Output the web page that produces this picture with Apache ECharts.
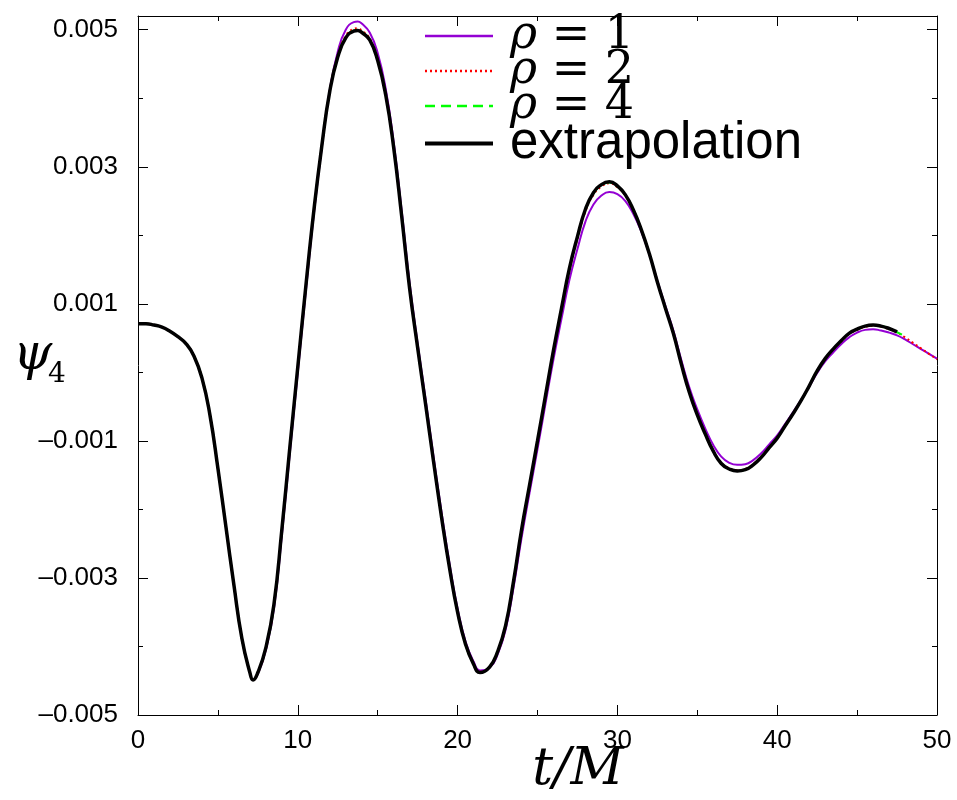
<!DOCTYPE html>
<html><head><meta charset="utf-8">
<script src="https://cdn.jsdelivr.net/npm/echarts@6/dist/echarts.min.js"></script>
<style>html,body{margin:0;padding:0;background:#fff}#c{width:957px;height:800px}</style>
</head><body><div id="c"></div>
<script>
// time grid (t/M)
const t = [0,0.5,1,1.5,2,2.5,3,3.5,4,4.5,5,5.5,6,6.5,7,7.2,7.5,8,8.5,9,9.5,10,10.5,11,11.5,12,12.5,13,13.5,13.75,14,14.5,15,15.5,16,16.5,17,17.5,18,18.5,19,19.5,20,20.5,21,21.4,22,22.5,23,23.5,24,24.5,25,25.5,26,26.5,27,27.5,28,28.5,29,29.5,30,30.5,31,31.5,32,32.5,33,33.5,34,34.5,35,35.5,36,36.5,37,37.5,38,38.5,39,39.5,40,40.5,41,41.5,42,42.5,43,43.5,44,44.5,45,45.5,46,46.5,47,47.5,48,48.5,49,49.5,50];
// psi_4 values in units of 1e-3
const rho1 = [0.71,0.71,0.69,0.66,0.60,0.52,0.42,0.24,-0.08,-0.62,-1.40,-2.25,-3.10,-3.88,-4.38,-4.49,-4.40,-4.05,-3.46,-2.38,-1.18,0.00,1.18,2.30,3.28,4.12,4.68,5.00,5.11,5.12,5.09,4.96,4.66,4.14,3.36,2.36,1.30,0.42,-0.40,-1.24,-2.05,-2.80,-3.45,-3.93,-4.22,-4.35,-4.31,-4.12,-3.76,-3.14,-2.42,-1.76,-1.12,-0.46,0.19,0.78,1.35,1.80,2.20,2.45,2.58,2.63,2.60,2.50,2.31,2.05,1.72,1.34,0.97,0.61,0.18,-0.22,-0.54,-0.82,-1.06,-1.23,-1.32,-1.35,-1.34,-1.28,-1.18,-1.05,-0.92,-0.75,-0.58,-0.40,-0.21,-0.01,0.16,0.29,0.41,0.51,0.58,0.62,0.63,0.61,0.58,0.54,0.48,0.41,0.34,0.27,0.20];
const rho2 = [0.71,0.71,0.69,0.66,0.60,0.52,0.42,0.24,-0.08,-0.62,-1.40,-2.25,-3.10,-3.88,-4.38,-4.49,-4.39,-4.03,-3.40,-2.32,-1.12,0.06,1.23,2.34,3.30,4.10,4.62,4.91,5.01,5.02,4.99,4.87,4.57,4.07,3.30,2.29,1.23,0.36,-0.46,-1.30,-2.11,-2.85,-3.49,-3.96,-4.25,-4.37,-4.30,-4.09,-3.71,-3.07,-2.32,-1.67,-1.02,-0.36,0.30,0.91,1.49,1.95,2.35,2.59,2.71,2.76,2.70,2.58,2.36,2.08,1.73,1.32,0.94,0.58,0.13,-0.28,-0.61,-0.89,-1.14,-1.32,-1.40,-1.43,-1.41,-1.34,-1.23,-1.09,-0.95,-0.78,-0.60,-0.41,-0.20,0.02,0.19,0.33,0.45,0.56,0.62,0.665,0.68,0.665,0.63,0.58,0.51,0.43,0.35,0.27,0.19];
const rho4 = [0.71,0.71,0.69,0.66,0.60,0.52,0.42,0.24,-0.08,-0.62,-1.40,-2.25,-3.10,-3.88,-4.38,-4.49,-4.38,-4.02,-3.41,-2.31,-1.11,0.07,1.24,2.35,3.30,4.10,4.61,4.89,4.99,5.00,4.97,4.86,4.56,4.06,3.29,2.29,1.23,0.35,-0.47,-1.31,-2.12,-2.86,-3.50,-3.97,-4.26,-4.38,-4.30,-4.08,-3.70,-3.06,-2.31,-1.66,-1.01,-0.35,0.31,0.92,1.51,1.97,2.37,2.61,2.73,2.77,2.71,2.59,2.37,2.08,1.73,1.32,0.94,0.57,0.12,-0.29,-0.62,-0.90,-1.15,-1.33,-1.41,-1.44,-1.42,-1.35,-1.24,-1.10,-0.96,-0.78,-0.60,-0.41,-0.20,0.02,0.20,0.34,0.46,0.57,0.63,0.675,0.69,0.675,0.64,0.585,0.53,null,null,null,null];
const extrap = [0.71,0.71,0.69,0.66,0.60,0.52,0.42,0.24,-0.08,-0.62,-1.40,-2.25,-3.10,-3.88,-4.38,-4.49,-4.38,-4.02,-3.40,-2.30,-1.10,0.08,1.25,2.35,3.30,4.10,4.60,4.88,4.98,4.99,4.96,4.85,4.55,4.05,3.28,2.28,1.22,0.36,-0.47,-1.31,-2.12,-2.86,-3.50,-3.97,-4.26,-4.38,-4.30,-4.08,-3.70,-3.05,-2.30,-1.65,-1.00,-0.34,0.32,0.93,1.52,1.98,2.38,2.62,2.74,2.78,2.72,2.59,2.37,2.08,1.73,1.32,0.94,0.57,0.12,-0.29,-0.62,-0.90,-1.15,-1.33,-1.41,-1.44,-1.42,-1.35,-1.24,-1.10,-0.96,-0.78,-0.60,-0.41,-0.20,0.02,0.20,0.34,0.46,0.57,0.63,0.675,0.69,0.675,0.64,0.59,null,null,null,null,null];
const seriesNames = ['ρ = 1','ρ = 2','ρ = 4','extrapolation'];
const xTickLabels = ['0','10','20','30','40','50'];
const yTickLabels = ['\u20130.005','\u20130.003','\u20130.001','0.001','0.003','0.005'];

function pairs(arr){ const out=[]; for(let i=0;i<t.length;i++){ if(arr[i]!==null) out.push([t[i],arr[i]]); } return out; }

const GRID = {left:138, right:20, top:16, bottom:85};
const labelFont = {fontFamily:'Liberation Sans', fontSize:26, color:'#000'};
const chart = echarts.init(document.getElementById('c'), null, {renderer:'canvas'});
const yMajor = (pos, showLabel) => ({
  type:'value', gridIndex:0, position:pos, min:-5, max:5.2, interval:2,
  axisLine:{show:true, onZero:false, lineStyle:{color:'#000', width:1}},
  axisTick:{show:true, inside:true, length:10, lineStyle:{color:'#000'}},
  axisLabel:{show:showLabel, margin:20, ...labelFont, formatter:(v)=>{
    const r=Math.round(v); if(Math.abs(v-r)>1e-6 || Math.abs(r%2)!==1) return ''; return yTickLabels[(r+5)/2]; }},
  splitLine:{show:false}
});
const yMinor = (pos) => ({
  type:'value', gridIndex:1, position:pos, min:-5, max:5.2, interval:1,
  axisLine:{show:false, onZero:false},
  axisTick:{show:true, inside:true, length:5, lineStyle:{color:'#000'}},
  axisLabel:{show:false}, splitLine:{show:false}
});
const xAx = (pos, showLabel) => ({
  type:'value', gridIndex:0, position:pos, min:0, max:50, interval:10,
  axisLine:{show:true, onZero:false, lineStyle:{color:'#000', width:1}},
  axisTick:{show:true, inside:true, length:10, lineStyle:{color:'#000'}},
  minorTick:{show:true, splitNumber:2, length:5, lineStyle:{color:'#000'}},
  axisLabel:{show:showLabel, margin:13, ...labelFont, formatter:(v)=>{ const i=Math.round(v/10); return (Math.abs(v-i*10)<1e-6)? xTickLabels[i] : ''; }},
  splitLine:{show:false}
});
const rhoRich = {
  r:{fontFamily:'DejaVu Serif', fontStyle:'italic', fontSize:46, color:'#000'},
  e:{fontFamily:'DejaVu Serif', fontSize:46, color:'#000'},
  s:{fontFamily:'Liberation Sans', fontSize:51, color:'#000'}
};
chart.setOption({
  animation:false,
  backgroundColor:'#fff',
  grid:[Object.assign({}, GRID), Object.assign({}, GRID)],
  xAxis:[xAx('bottom', true), xAx('top', false), {type:'value', gridIndex:1, min:0, max:50, show:false}],
  yAxis:[yMajor('left', true), yMajor('right', false), yMinor('left'), yMinor('right')],
  legend:{
    orient:'vertical', left:418, top:8, itemWidth:68, itemHeight:14, itemGap:-11,
    data:[
      {name:seriesNames[0], lineStyle:{width:2.5}},
      {name:seriesNames[1], lineStyle:{width:2.5}},
      {name:seriesNames[2], lineStyle:{width:2.5}},
      {name:seriesNames[3], lineStyle:{width:4}}
    ],
    itemStyle:{opacity:0},
    textStyle:{padding:[0,0,0,12], rich:rhoRich},
    formatter:(name)=>{
      if(name==='extrapolation') return '{s|extrapolation}';
      const parts=name.split(' = ');
      return '{r|ρ}{e| = '+parts[1]+'}';
    }
  },
  series:[
    {name:seriesNames[0], type:'line', xAxisIndex:0, yAxisIndex:0, data:pairs(rho1), symbol:'none', smooth:0.5,
     lineStyle:{color:'#9400d3', width:2}, itemStyle:{color:'#9400d3'}},
    {name:seriesNames[1], type:'line', xAxisIndex:0, yAxisIndex:0, data:pairs(rho2), symbol:'none', smooth:0.5,
     lineStyle:{color:'#ff0000', width:2, type:[2,3]}, itemStyle:{color:'#ff0000'}},
    {name:seriesNames[2], type:'line', xAxisIndex:0, yAxisIndex:0, data:pairs(rho4), symbol:'none', smooth:0.5,
     lineStyle:{color:'#00ff00', width:2, type:[10,6]}, itemStyle:{color:'#00ff00'}},
    {name:seriesNames[3], type:'line', xAxisIndex:0, yAxisIndex:0, data:pairs(extrap), symbol:'none', smooth:0.5,
     lineStyle:{color:'#000', width:3.5}, itemStyle:{color:'#000'}}
  ],
  graphic:[
    {type:'text', style:{text:'t/M', x:578, y:770, align:'center', verticalAlign:'middle',
      fontFamily:'DejaVu Serif', fontStyle:'italic', fontSize:52, fill:'#000'}},
    {type:'text', style:{text:'ψ', x:13, y:356, align:'left', verticalAlign:'middle',
      fontFamily:'DejaVu Serif', fontStyle:'italic', fontSize:50, fill:'#000'}},
    {type:'text', style:{text:'4', x:48, y:375, align:'left', verticalAlign:'middle',
      fontFamily:'DejaVu Serif', fontSize:28, fill:'#000'}}
  ]
});
</script></body></html>
